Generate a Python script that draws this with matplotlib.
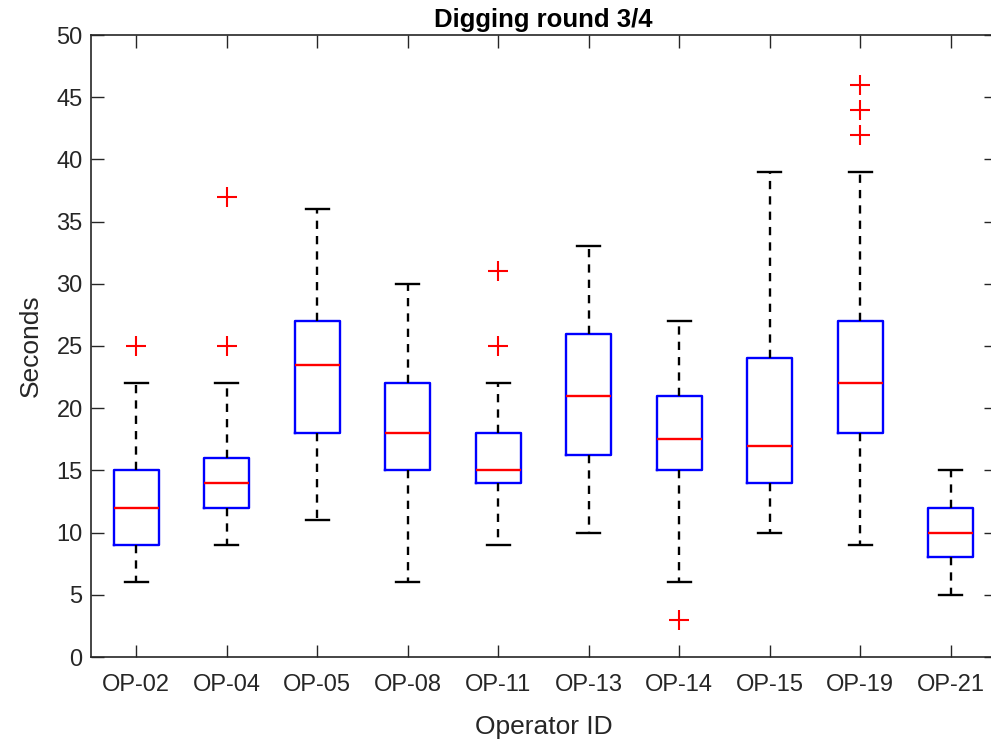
import matplotlib.pyplot as plt

plt.rcParams['font.family'] = ['Liberation Sans', 'DejaVu Sans']

# operator boxplot stats
ops = ['OP-02', 'OP-04', 'OP-05', 'OP-08', 'OP-11', 'OP-13', 'OP-14', 'OP-15', 'OP-19', 'OP-21']
whislo = [6, 9, 11, 6, 9, 10, 6, 10, 9, 5]
q1 = [9, 12, 18, 15, 14, 16.25, 15, 14, 18, 8]
med = [12, 14, 23.5, 18, 15, 21, 17.5, 17, 22, 10]
q3 = [15, 16, 27, 22, 18, 26, 21, 24, 27, 12]
whishi = [22, 22, 36, 30, 22, 33, 27, 39, 39, 15]
fliers = [[25], [25, 37], [], [], [25, 31], [], [3], [], [42, 44, 46], []]

stats = []
for i in range(len(ops)):
    stats.append({'label': ops[i], 'whislo': whislo[i], 'q1': q1[i], 'med': med[i],
                  'q3': q3[i], 'whishi': whishi[i], 'fliers': fliers[i]})

fig = plt.figure(figsize=(9.91, 7.42), dpi=100)
ax = fig.add_axes([91/991, 1 - 657/742, 905/991, (657 - 35)/742])

ax.bxp(stats, positions=range(1, 11), widths=0.5,
       boxprops=dict(color='#0000ff', lw=1.7),
       medianprops=dict(color='#ff0000', lw=1.7),
       whiskerprops=dict(color='black', lw=1.7, ls=(0, (3.5, 3.0))),
       capprops=dict(color='black', lw=1.7),
       flierprops=dict(marker='+', markeredgecolor='#ff0000', markersize=14, mew=1.5),
       capwidths=0.25)

ax.set_xlim(0.5, 10.5)
ax.set_ylim(0, 50)
ax.set_yticks(range(0, 51, 5))
ax.set_xticks(range(1, 11))
ax.set_xticklabels(ops)
ax.tick_params(direction='in', length=9, width=1, labelsize=17, colors='#262626',
               top=True, right=True)
ax.tick_params(axis='x', pad=12)
ax.tick_params(axis='y', pad=6)
for s in ax.spines.values():
    s.set_color('#262626')
    s.set_linewidth(1.2)

ax.set_xlabel('Operator ID', fontsize=19, color='#262626', labelpad=14)
ax.set_ylabel('Seconds', fontsize=19, color='#262626', labelpad=10)
ax.set_title('Digging round 3/4', fontsize=18.5, fontweight='bold', pad=6)

fig.savefig('out.png', dpi=100)
